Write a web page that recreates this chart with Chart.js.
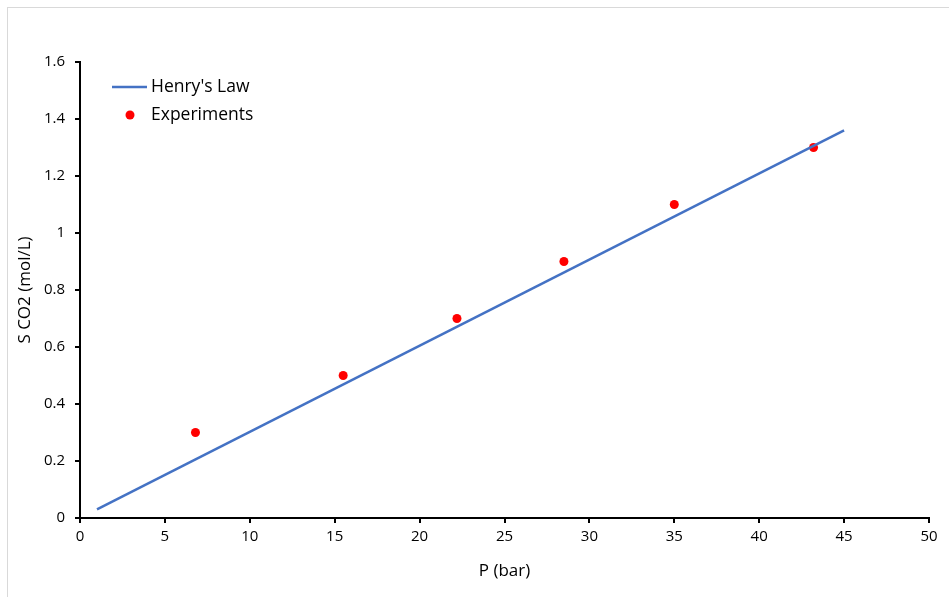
<!DOCTYPE html>
<html>
<head>
<meta charset="utf-8">
<script src="https://cdn.jsdelivr.net/npm/chart.js@4"></script>
<style>
  body { margin: 0; background: #fff; }
  #frame { position: absolute; left: 7px; top: 7px; width: 960px; height: 620px; border: 1px solid #d9d9d9; }
  #chart { position: absolute; left: 0; top: 0; }
</style>
</head>
<body>
<div id="frame"></div>
<canvas id="chart" width="949" height="597"></canvas>
<script>
// Henry's law line (endpoints) and experimental points
const henryP = [1, 45];
const henryS = [0.03, 1.36];
const expP = [6.8, 15.5, 22.2, 28.5, 35.0, 43.2];
const expS = [0.30, 0.50, 0.70, 0.90, 1.10, 1.30];
const xTicks = [0, 5, 10, 15, 20, 25, 30, 35, 40, 45, 50];
const yTicks = [0, 0.2, 0.4, 0.6, 0.8, 1, 1.2, 1.4, 1.6];

const FONT = "'Open Sans', sans-serif";

// legend drawn inside the plot, top-left
const insideLegend = {
  id: 'insideLegend',
  afterDraw(chart) {
    const c = chart.ctx;
    const ds = chart.data.datasets;
    c.save();
    c.font = '17.5px ' + FONT;
    c.textBaseline = 'middle';
    c.fillStyle = '#000';
    // line entry
    c.strokeStyle = ds[0].borderColor;
    c.lineWidth = 2.5;
    c.beginPath();
    c.moveTo(112, 87);
    c.lineTo(147, 87);
    c.stroke();
    c.fillText(ds[0].label, 151, 87);
    // point entry
    c.fillStyle = ds[1].backgroundColor;
    c.beginPath();
    c.arc(130, 115, 4.5, 0, Math.PI * 2);
    c.fill();
    c.fillStyle = '#000';
    c.fillText(ds[1].label, 151, 115);
    c.restore();
  }
};

const ctx = document.getElementById('chart').getContext('2d');
new Chart(ctx, {
  type: 'scatter',
  data: {
    datasets: [
      {
        type: 'line',
        label: "Henry's Law",
        data: henryP.map((p, i) => ({ x: p, y: henryS[i] })),
        borderColor: '#4472C4',
        borderWidth: 2.5,
        pointRadius: 0,
        fill: false
      },
      {
        label: 'Experiments',
        data: expP.map((p, i) => ({ x: p, y: expS[i] })),
        backgroundColor: '#FF0000',
        borderColor: '#FF0000',
        borderWidth: 0,
        pointRadius: 4.5
      }
    ]
  },
  options: {
    responsive: false,
    animation: false,
    layout: { padding: { top: 62, right: 20, left: 0, bottom: 0 } },
    plugins: { legend: { display: false }, tooltip: { enabled: false } },
    scales: {
      x: {
        type: 'linear',
        min: 0, max: 50,
        afterFit: s => { s.height = 79; },
        afterBuildTicks: s => { s.ticks = xTicks.map(v => ({ value: v })); },
        border: { color: '#000', width: 2 },
        grid: { display: true, drawOnChartArea: false, drawTicks: true, tickLength: 5, color: '#000', lineWidth: 2 },
        ticks: { color: '#000', font: { family: FONT, size: 15 }, padding: 5, callback: v => String(v) },
        title: { display: true, text: 'P (bar)', color: '#000', font: { family: FONT, size: 17 }, padding: { top: 0, bottom: 16 } }
      },
      y: {
        type: 'linear',
        min: 0, max: 1.6,
        afterFit: s => { s.width = 80; },
        afterBuildTicks: s => { s.ticks = yTicks.map(v => ({ value: v })); },
        border: { color: '#000', width: 2 },
        grid: { display: true, drawOnChartArea: false, drawTicks: true, tickLength: 5, color: '#000', lineWidth: 2 },
        ticks: { color: '#000', font: { family: FONT, size: 15 }, padding: 10, callback: v => String(v) },
        title: { display: true, text: 'S CO2 (mol/L)', color: '#000', font: { family: FONT, size: 17 }, padding: { top: 15, bottom: 0 } }
      }
    }
  },
  plugins: [insideLegend]
});
</script>
</body>
</html>
